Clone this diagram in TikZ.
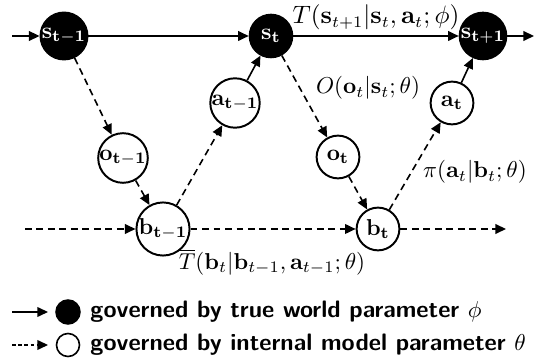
\documentclass[tikz,border=0pt]{standalone}
\usepackage{amsmath}
\usetikzlibrary{arrows.meta}
\begin{document}
\begin{tikzpicture}[x=0.435pt,y=-0.435pt,
  world/.style={circle,fill=black,draw=black,line width=0.8pt,minimum size=18.6pt,inner sep=0pt,text=white},
  model/.style={circle,fill=white,draw=black,line width=0.85pt,minimum size=18.6pt,inner sep=0pt},
  solidarr/.style={line width=0.7pt,-{Triangle[length=4.6pt,width=4.2pt]}},
  dasharr/.style={line width=0.7pt,dash pattern=on 3pt off 2pt,-{Triangle[length=4.6pt,width=4.2pt]}},
  legdash/.style={line width=0.6pt,dash pattern=on 1.6pt off 1.1pt,-{Triangle[length=4.6pt,width=4.2pt]}},
  legsolid/.style={line width=0.6pt,-{Triangle[length=4.6pt,width=4.2pt]}},
  legtext/.style={anchor=west,inner sep=0pt,font=\fontsize{10.35}{12}\selectfont\sffamily\bfseries}]
\useasboundingbox (0,0) rectangle (537,360);
% nodes
\node[world] (s0) at (64,36) {$\mathbf{s_{t-1}}$};
\node[world] (s1) at (271,36) {$\mathbf{s_{t}}$};
\node[world] (s2) at (483,36) {$\mathbf{s_{t+1}}$};
\node[model] (o0) at (123,158) {$\mathbf{o_{t-1}}$};
\node[model] (b0) at (163,229) {$\mathbf{b_{t-1}}$};
\node[model] (a0) at (235,103) {$\mathbf{a_{t-1}}$};
\node[model] (o1) at (338,157) {$\mathbf{o_{t}}$};
\node[model] (b1) at (378,229) {$\mathbf{b_{t}}$};
\node[model] (a1) at (452,103) {$\mathbf{a_{t}}$};
\coordinate (sin) at (12,36);
\coordinate (sout) at (534,36);
\coordinate (bin) at (25,229);
\coordinate (bout) at (506,229);
% world arrows
\draw[solidarr] (sin) -- (s0);
\draw[solidarr] (s0) -- (s1);
\draw[solidarr] (s1) -- (s2);
\draw[solidarr] (s2) -- (sout);
\draw[solidarr] (a0) -- (s1);
\draw[solidarr] (a1) -- (s2);
% model arrows
\draw[dasharr] (s0) -- (o0);
\draw[dasharr] (o0) -- (b0);
\draw[dasharr] (b0) -- (a0);
\draw[dasharr] (s1) -- (o1);
\draw[dasharr] (o1) -- (b1);
\draw[dasharr] (b1) -- (a1);
\draw[dasharr] (bin) -- (b0);
\draw[dasharr] (b0) -- (b1);
\draw[dasharr] (b1) -- (bout);
% labels
\node[font=\fontsize{10.5}{12}\selectfont,inner sep=1pt] (lT) at (376,17) {$T(\mathbf{s}_{t+1}|\mathbf{s}_t,\mathbf{a}_t;\phi)$};
\node (lO) at (368,88) {$O(\mathbf{o}_t|\mathbf{s}_t;\theta)$};
\node (lP) at (475,172) {$\pi(\mathbf{a}_t|\mathbf{b}_t;\theta)$};
\node (lTb) at (272,262) {$\overline{T}(\mathbf{b}_t|\mathbf{b}_{t-1},\mathbf{a}_{t-1};\theta)$};
% legend
\coordinate (l1a) at (12,312);
\coordinate (l1b) at (48,312);
\coordinate (l2a) at (12,345);
\coordinate (l2b) at (48,345);
\draw[legsolid] (l1a) -- (l1b);
\draw[legdash] (l2a) -- (l2b);
\node[circle,fill=black,draw=black,line width=0.7pt,minimum size=10.4pt,inner sep=0pt] (c1) at (68,312) {};
\node[circle,fill=white,draw=black,line width=0.7pt,minimum size=10pt,inner sep=0pt] (c2) at (68,345) {};
\node[legtext] (t1) at (90,312) {governed by true world parameter $\phi$};
\node[legtext] (t2) at (90,345) {governed by internal model parameter $\theta$};
\end{tikzpicture}
\end{document}
